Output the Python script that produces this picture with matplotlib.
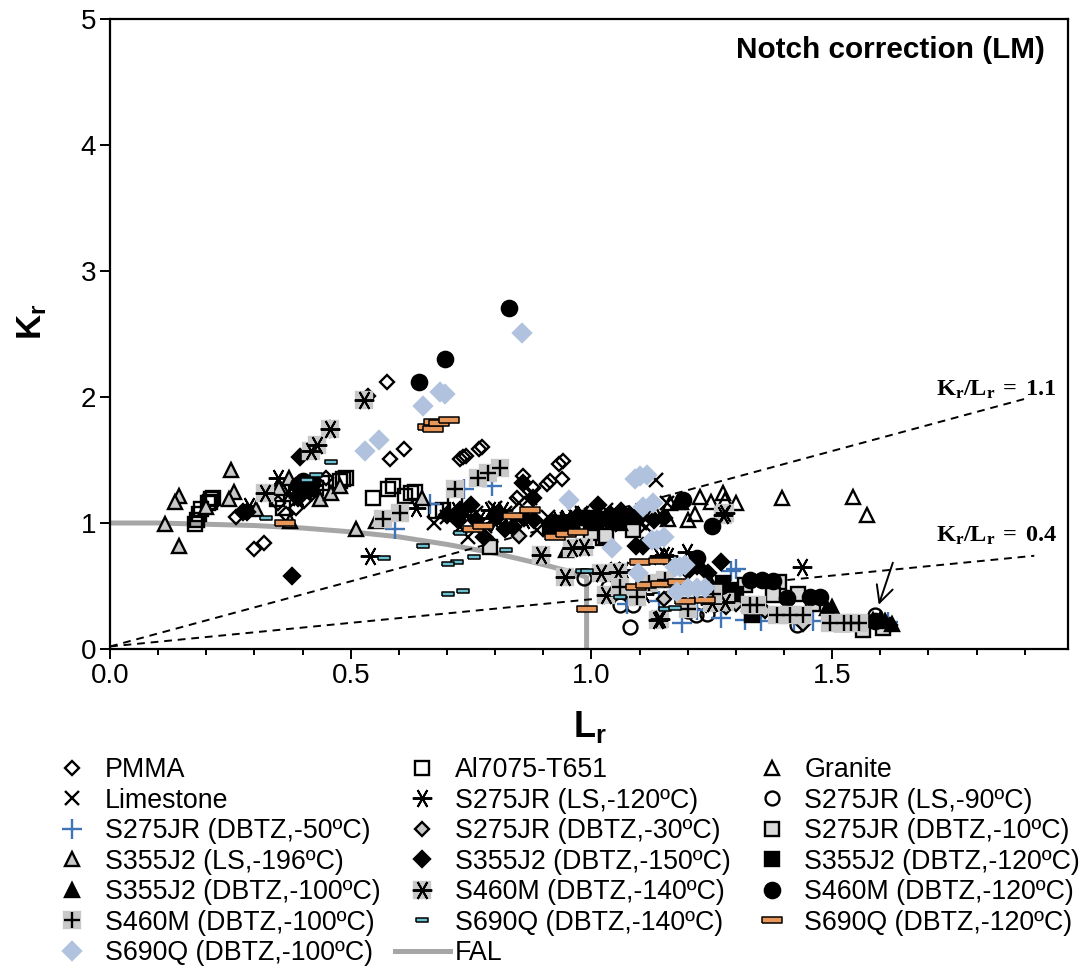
import matplotlib
matplotlib.use('Agg')
import matplotlib.pyplot as plt
from matplotlib.legend_handler import HandlerTuple
from matplotlib.ticker import MultipleLocator

plt.rcParams['font.family'] = ['Liberation Sans', 'DejaVu Sans']
plt.rcParams['mathtext.fontset'] = 'custom'
plt.rcParams['mathtext.bf'] = 'Liberation Sans:bold'
plt.rcParams['mathtext.rm'] = 'Liberation Serif:bold'

#-- data, (Lr, Kr) per series --
pmma_l = [.30,.319,.261,.365,.387,.404,.42,.448,.536,.576,.582,.61,.733,.727,.74,.767,.772,.858,.879,.907,.913,.938,.933,.941,1.062,.845,.35]
pmma_k = [.795,.838,1.048,1.07,1.12,1.175,1.24,1.355,2.01,2.12,1.51,1.59,1.52,1.51,1.53,1.59,1.6,1.37,1.275,1.31,1.33,1.35,1.47,1.49,1.10,1.2,1.16]

al_l = [.176,.18,.185,.19,.204,.21,.213,.207,.346,.387,.415,.428,.477,.484,.49,.547,.578,.588,.612,.626,.633,.678,.692,.716,.36,.4,.44]
al_k = [.99,1.02,1.07,1.11,1.16,1.19,1.2,1.17,1.19,1.27,1.27,1.28,1.335,1.35,1.355,1.2,1.27,1.29,1.215,1.24,1.245,1.095,1.10,1.156,1.12,1.3,1.32]

granite_l = [1.16,1.2,1.215,1.225,1.248,1.274,1.277,1.30,1.187,1.163,1.396,1.543,1.572,1.13,1.1]
granite_k = [1.03,1.02,1.07,1.21,1.17,1.235,1.18,1.16,1.17,1.156,1.2,1.21,1.065,1.1,1.08]

lime_l = [1.135,.674,.744,.726,.886,.873,.85,.879,.82,1.156,1.114,.78,.95,1.0,1.05,1.1,.7,.76,.80,.84,.91,.98,1.03,1.08]
lime_k = [1.345,1.0,.89,.97,.945,1.2,1.16,1.235,1.08,1.156,.97,.98,1.03,1.06,1.03,1.0,1.05,1.08,1.12,1.02,1.05,1.08,1.1,1.05]

s275ls120_l = [.54,.288,.348,.37,.39,.636,.817,.768,.83,.948,.96,.93,1.198,1.14,1.15,1.16,1.02,1.05,1.065,1.035,1.11,1.246,1.437,.79,.86,.98,1.01,.42,.74,.80,.72,1.0,1.04]
s275ls120_k = [.737,1.135,1.355,1.24,1.21,1.12,1.10,1.04,.97,1.04,1.06,1.03,.77,.74,.745,.74,.60,.627,.627,.43,.44,.36,.65,1.1,1.02,1.07,1.08,1.3,1.06,1.0,1.1,1.04,1.0]

s275ls90_l = [.985,1.08,1.06,1.087,1.034,1.218,1.59,1.427,1.2,1.24]
s275ls90_k = [.56,.177,.35,.35,.495,.27,.27,.19,.3,.28]

s275d50_l = [.593,.664,.794,.735,1.188,1.27,1.32,1.30,1.073,1.14,1.22,1.352,1.42,1.616,1.29,1.46]
s275d50_k = [.95,1.15,1.295,1.267,.21,.245,.23,.635,.36,.38,.31,.22,.23,.215,.62,.22]

s275d30_l = [.79,.82,1.02,1.07,1.15,1.28,1.3,1.36,1.44,1.6,1.62,.85]
s275d30_k = [.85,.95,.6,.45,.4,.33,.36,.3,.2,.18,.19,.9]

s275d10_l = [.789,1.025,1.086,1.0,1.2,1.32,1.39,1.377,1.43,1.564,1.605,1.03,1.46,1.52]
s275d10_k = [.81,.88,.945,.92,.45,.51,.53,.43,.44,.15,.165,.9,.36,.2]

s355ls_l = [.115,.143,.136,.143,.252,.258,.247,.199,.304,.372,.352,.373,.437,.46,.478,.51,.553,.649]
s355ls_k = [.99,1.215,1.17,.815,1.42,1.245,1.19,1.13,1.11,1.36,1.28,1.015,1.19,1.24,1.295,.95,1.015,1.195]

s355d150_l = [.378,.276,.285,.394,.456,.70,.727,.75,.776,.838,.858,.879,1.014,1.08,1.093,1.107,1.27,1.22,.72,.80,.88,.92,.97,1.2,1.06,1.33,1.242,.415,.39,.76,.81,.82,.86,1.04,1.1,1.13,1.15]
s355d150_k = [.58,1.09,1.09,1.525,1.745,1.06,1.10,1.14,.89,.97,1.315,1.2,1.14,1.06,.82,.82,.69,.66,1.03,1.05,1.02,1.0,1.05,.62,1.08,.3,.6,1.26,1.2,1.02,1.07,.95,1.04,1.06,1.05,1.02,1.04]

s355d120_l = [.92,.94,.96,.98,.995,.913,1.333,1.343,1.08,1.273,1.285,1.01,1.3,.93,1.03,1.26]
s355d120_k = [.98,1.0,.97,1.04,1.04,.96,.27,.35,1.05,.52,.47,1.02,.44,1.0,1.03,.47]

s355d100_l = [.948,1.044,1.28,1.49,1.50,1.585,1.60,1.625,.96,1.0,1.18,1.25,1.5,1.61,1.06]
s355d100_k = [.785,1.02,.48,.325,.33,.23,.23,.2,1.02,1.0,1.17,.5,.3,.22,1.0]

s460d140_l = [.528,.417,.429,.323,.456,.896,.945,.96,.985,1.138,1.142,1.274,1.278,1.03,1.055,1.277,1.25,1.02]
s460d140_k = [1.98,1.575,1.62,1.24,1.745,.745,.575,.80,.81,.23,.235,1.063,1.08,.43,.615,.375,.365,.6]

s460d120_l = [.828,.695,.642,.40,.41,.42,.405,1.25,1.19,1.354,1.378,1.406,1.454,1.474,1.22,1.33,1.59,1.27,.39]
s460d120_k = [2.71,2.30,2.12,1.335,1.31,1.32,1.27,.98,1.18,.55,.54,.405,.41,.41,.72,.55,.22,.5,1.3]

s460d100_l = [.567,.602,.716,.764,.785,.811,1.059,1.094,1.12,1.152,1.2,1.253,1.33,1.343,1.385,1.413,1.44,1.495,1.525,1.54,1.555]
s460d100_k = [1.03,1.08,1.267,1.36,1.40,1.44,.495,.415,.52,.55,.32,.44,.35,.35,.27,.27,.27,.205,.205,.205,.205]

s690d140_l = [.46,.428,.41,.325,.57,.65,.726,.822,.757,.72,.703,.733,.703,.98,.99,1.06,1.153,1.173]
s690d140_k = [1.484,1.38,1.34,1.04,.72,.82,.92,.786,.727,.687,.675,.46,.44,.62,.62,.415,.32,.328]

s690d120_l = [.363,.66,.674,.67,.683,.704,.755,.775,.837,.872,.924,.947,.972,.991,1.10,1.14,1.092,1.114,1.144,1.18,1.195,1.236]
s690d120_k = [1.0,1.76,1.805,1.75,1.796,1.82,.952,.979,1.058,1.10,.89,.913,.926,.315,.688,.70,.495,.508,.516,.53,.38,.39]

s690d100_l = [.65,.53,.559,.685,.855,.695,.954,1.042,1.09,1.10,1.115,1.108,1.128,1.125,1.136,1.15,1.173,1.184,1.195,1.097,1.177,1.2,1.22,1.235]
s690d100_k = [1.93,1.575,1.655,2.04,2.505,2.02,1.18,.80,1.35,1.37,1.38,1.13,1.155,.865,.865,.89,.653,.65,.667,.606,.455,.485,.485,.485]

fal_l = [0,.1,.2,.3,.4,.5,.6,.7,.8,.9,.95,.99,.99]
fal_k = [1,1,.99,.98,.96,.93,.89,.83,.76,.67,.62,.57,0]

line11_l = [0,1.905]
line11_k = [.02,1.99]
line04_l = [0,1.92]
line04_k = [.02,.74]

fig = plt.figure(figsize=(10.88,9.67), dpi=100)
ax = fig.add_axes([110/1088, 1-649/967, 958/1088, 630/967])

aster = (6,2,30)
gray = '#c8c8c8'
rect_o = [(-1,-.3),(1,-.3),(1,.3),(-1,.3),(-1,-.3)]
rect_c = [(-1,-.42),(1,-.42),(1,.42),(-1,.42),(-1,-.42)]

def pts(xx, yy, mk, ms=9, fc='none', ec='k', mew=1.7):
    return ax.plot(xx, yy, ls='none', marker=mk, ms=ms, mfc=fc, mec=ec, mew=mew)[0]

ax.plot(line11_l, line11_k, '--', color='k', lw=1.4, dashes=(4,3))
ax.plot(line04_l, line04_k, '--', color='k', lw=1.4, dashes=(4,3))

h = {}
h['pmma'] = pts(pmma_l, pmma_k, 'D', 7)
h['al'] = pts(al_l, al_k, 's', 10)
h['granite'] = pts(granite_l, granite_k, '^', 10.5)
h['lime'] = pts(lime_l, lime_k, 'x', 10.5)
h['s275ls120'] = pts(s275ls120_l, s275ls120_k, aster, 14, mew=1.4)
h['s275ls90'] = pts(s275ls90_l, s275ls90_k, 'o', 10)
h['s275d50'] = pts(s275d50_l, s275d50_k, '+', 15, ec='#3f74b8')
h['s275d30'] = pts(s275d30_l, s275d30_k, 'D', 7, fc=gray)
h['s275d10'] = pts(s275d10_l, s275d10_k, 's', 10, fc='#d8d8d8')
h['s355ls'] = pts(s355ls_l, s355ls_k, '^', 10.5, fc=gray)
h['s355d150'] = pts(s355d150_l, s355d150_k, 'D', 8.5, fc='k')
h['s355d120'] = pts(s355d120_l, s355d120_k, 's', 10, fc='k')
h['s355d100'] = pts(s355d100_l, s355d100_k, '^', 10.5, fc='k')
sq1 = pts(s460d140_l, s460d140_k, 's', 12, fc=gray, ec=gray)
st1 = pts(s460d140_l, s460d140_k, aster, 14, mew=1.4)
h['s460d140'] = (sq1, st1)
h['s460d120'] = pts(s460d120_l, s460d120_k, 'o', 11, fc='k')
sq2 = pts(s460d100_l, s460d100_k, 's', 12, fc=gray, ec=gray)
st2 = pts(s460d100_l, s460d100_k, '+', 11)
h['s460d100'] = (sq2, st2)
h['s690d140'] = pts(s690d140_l, s690d140_k, rect_c, 8.5, fc='#6cc0d0', mew=1.1)
h['s690d120'] = pts(s690d120_l, s690d120_k, rect_o, 14, fc='#e8975a', mew=1.1)
h['s690d100'] = pts(s690d100_l, s690d100_k, 'D', 9, fc='#b0c2de', ec='#b0c2de')
h['fal'] = ax.plot(fal_l, fal_k, color='#a6a6a6', lw=3.6, solid_joinstyle='round')[0]
h['fal'].set_zorder(1.5)

ax.annotate('', xy=(1.595,.33), xytext=(1.628,.706), arrowprops=dict(arrowstyle='->,head_width=.6,head_length=1.2', color='k', lw=1.4))

ax.set_xlim(0,1.99)
ax.set_ylim(0,5)
ax.set_xticks([0,.5,1,1.5])
ax.set_xticklabels(['0.0','0.5','1.0','1.5'])
ax.xaxis.set_minor_locator(MultipleLocator(.1))
ax.set_yticks([0,1,2,3,4,5])
ax.tick_params(axis='both', which='major', labelsize=20, length=7, width=1.4, pad=3)
ax.tick_params(axis='x', which='minor', length=4.5, width=1.4)
for s in ax.spines.values():
    s.set_linewidth(1.6)

ax.text(.976, .951, 'Notch correction (LM)', transform=ax.transAxes, ha='right', va='center', fontsize=21.4, fontweight='bold')
fig.text(936/1088, 1-390/967, r'$\mathrm{K_r/L_r\,=\,1.1}$', fontsize=17.5, va='center')
fig.text(936/1088, 1-536/967, r'$\mathrm{K_r/L_r\,=\,0.4}$', fontsize=17.5, va='center')
fig.text(32/1088, 1-322/967, r'$\mathbf{K_r}$', fontsize=25, rotation=90, ha='center', va='center')
fig.text(590/1088, 1-727/967, r'$\mathbf{L_r}$', fontsize=26, ha='center', va='center')

#-- legend goes by columns in matplotlib, the picture reads by rows --
rows = [('PMMA', 'pmma'), ('Al7075-T651', 'al'), ('Granite', 'granite'),
        ('Limestone', 'lime'), ('S275JR (LS,-120ºC)', 's275ls120'), ('S275JR (LS,-90ºC)', 's275ls90'),
        ('S275JR (DBTZ,-50ºC)', 's275d50'), ('S275JR (DBTZ,-30ºC)', 's275d30'), ('S275JR (DBTZ,-10ºC)', 's275d10'),
        ('S355J2 (LS,-196ºC)', 's355ls'), ('S355J2 (DBTZ,-150ºC)', 's355d150'), ('S355J2 (DBTZ,-120ºC)', 's355d120'),
        ('S355J2 (DBTZ,-100ºC)', 's355d100'), ('S460M (DBTZ,-140ºC)', 's460d140'), ('S460M (DBTZ,-120ºC)', 's460d120'),
        ('S460M (DBTZ,-100ºC)', 's460d100'), ('S690Q (DBTZ,-140ºC)', 's690d140'), ('S690Q (DBTZ,-120ºC)', 's690d120'),
        ('S690Q (DBTZ,-100ºC)', 's690d100'), ('FAL', 'fal')]
order = rows[0::3] + rows[1::3] + rows[2::3]
leg = fig.legend([h[k] for _, k in order], [t for t, _ in order], ncol=3,
                 handler_map={tuple: HandlerTuple(ndivide=1)},
                 loc='upper left', bbox_to_anchor=(45/1088, 1-757/967), frameon=False,
                 fontsize=19.3, labelspacing=.17, handlelength=2.05, handletextpad=.19,
                 columnspacing=.52, borderpad=0, borderaxespad=0)

fig.savefig('out.png', dpi=100)
